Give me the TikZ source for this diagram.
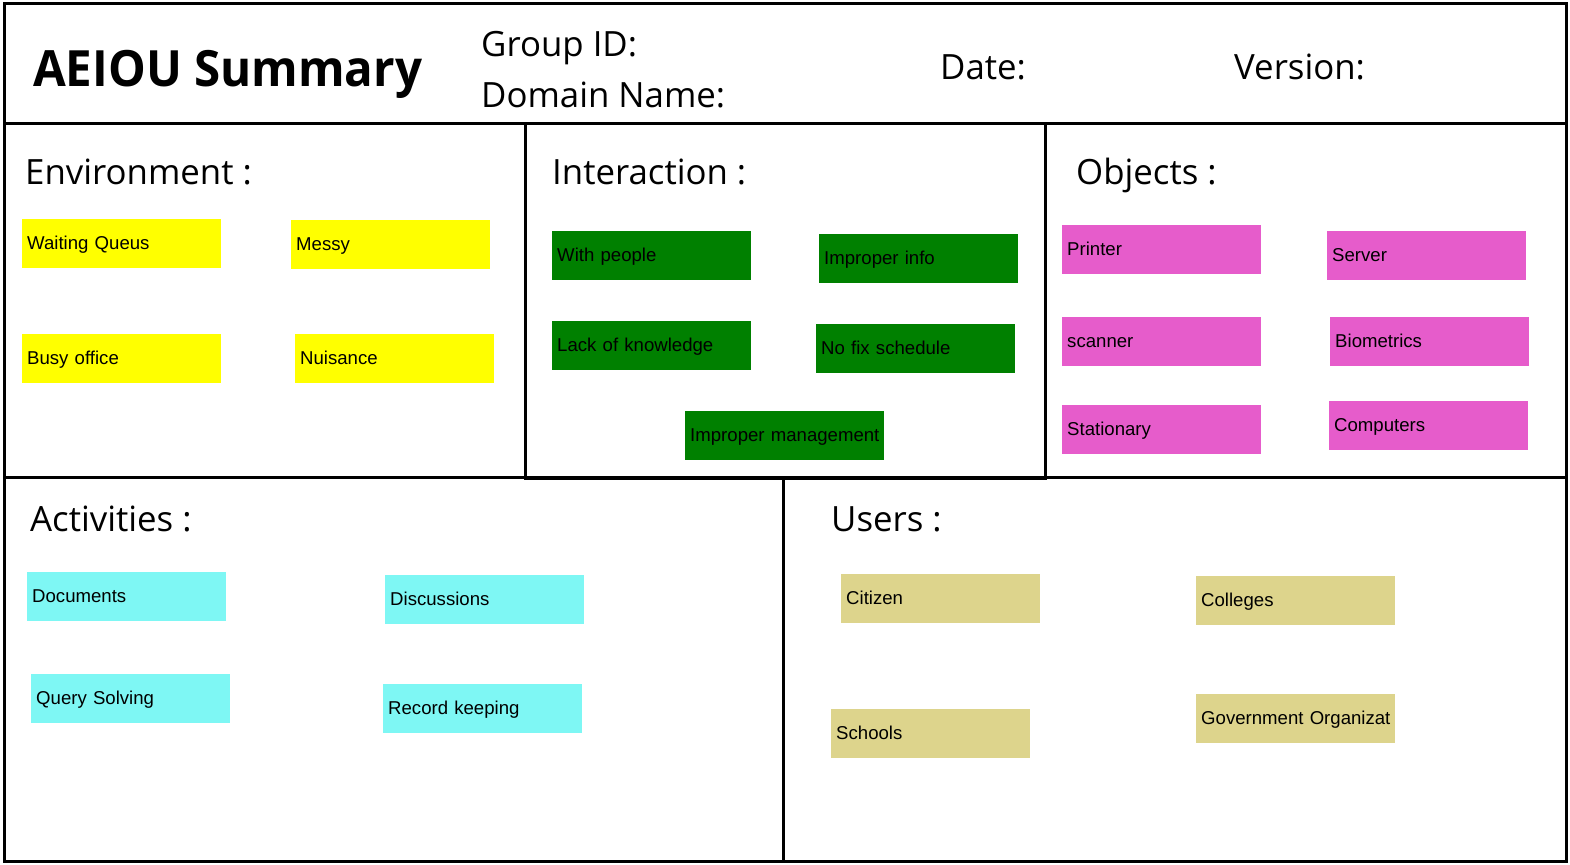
\documentclass[tikz,border=0pt]{standalone}
\usepackage{fontspec}
\setmainfont{Liberation Sans}
\newfontfamily\headfont{Open Sans}
\newfontfamily\titlefont[FakeStretch=0.95]{Open Sans}
\usetikzlibrary{positioning}
\definecolor{envcol}{HTML}{FFFF00}
\definecolor{intcol}{HTML}{008000}
\definecolor{objcol}{HTML}{E65CCB}
\definecolor{actcol}{HTML}{7EF7F4}
\definecolor{usrcol}{HTML}{DDD48C}

\begin{document}
\begin{tikzpicture}
  [x=1pt, y=-1pt,
   frame/.style={line width=3pt},
   heading/.style={anchor=base west, inner sep=0pt, font=\headfont\fontsize{34.8}{40}\selectfont},
   note/.style={anchor=north west, inner xsep=5pt, inner ysep=0pt, text width=189pt,
                text height=30pt, text depth=19pt, align=left,
                font=\fontsize{18.6}{22}\selectfont}]
  \useasboundingbox (0,0) rectangle (1570,864);

  % board frame
  \draw [frame] (4,4) rectangle (1566,861);
  \draw [frame] (4,124) -- (1566,124);
  \draw [frame] (4,477) -- (1566,477);
  \draw [frame] (525,124) -- (525,478) -- (1045,478) -- (1045,124);
  \draw [frame] (783,478) -- (783,861);

  % header
  \node (title) at (33,87) [heading, font=\titlefont\bfseries\fontsize{50}{60}\selectfont] {AEIOU Summary};
  \node (group) at (481,57) [heading] {Group ID:};
  \node (domain) at (481,107) [heading] {Domain Name:};
  \node (date) at (940,80) [heading] {Date:};
  \node (version) at (1234,80) [heading] {Version:};

  % section titles
  \node (env) at (25,184) [heading] {Environment :};
  \node (int) at (552,184) [heading] {Interaction :};
  \node (obj) at (1076,184) [heading] {Objects :};
  \node (act) at (30,531) [heading] {Activities :};
  \node (usr) at (831,531) [heading] {Users :};

  % sticky notes
  \foreach \name/\x/\y/\txt in {wait/22/219/Waiting Queus, messy/291/220/Messy,
      busy/22/334/Busy office, nuis/295/334/Nuisance}
    \node (\name) at (\x,\y) [note, fill=envcol] {\mbox{\txt}};
  \foreach \name/\x/\y/\txt in {people/552/231/With people, info/819/234/Improper info,
      lack/552/321/Lack of knowledge, sched/816/324/No fix schedule,
      manage/685/411/Improper management}
    \node (\name) at (\x,\y) [note, fill=intcol] {\mbox{\txt}};
  \foreach \name/\x/\y/\txt in {printer/1062/225/Printer, server/1327/231/Server,
      scanner/1062/317/scanner, bio/1330/317/Biometrics,
      station/1062/405/Stationary, comp/1329/401/Computers}
    \node (\name) at (\x,\y) [note, fill=objcol] {\mbox{\txt}};
  \foreach \name/\x/\y/\txt in {docs/27/572/Documents, disc/385/575/Discussions,
      query/31/674/Query Solving, record/383/684/Record keeping}
    \node (\name) at (\x,\y) [note, fill=actcol] {\mbox{\txt}};
  \foreach \name/\x/\y/\txt in {citizen/841/574/Citizen, college/1196/576/Colleges,
      school/831/709/Schools, govt/1196/694/Government Organizat}
    \node (\name) at (\x,\y) [note, fill=usrcol] {\mbox{\txt}};
\end{tikzpicture}
\end{document}
